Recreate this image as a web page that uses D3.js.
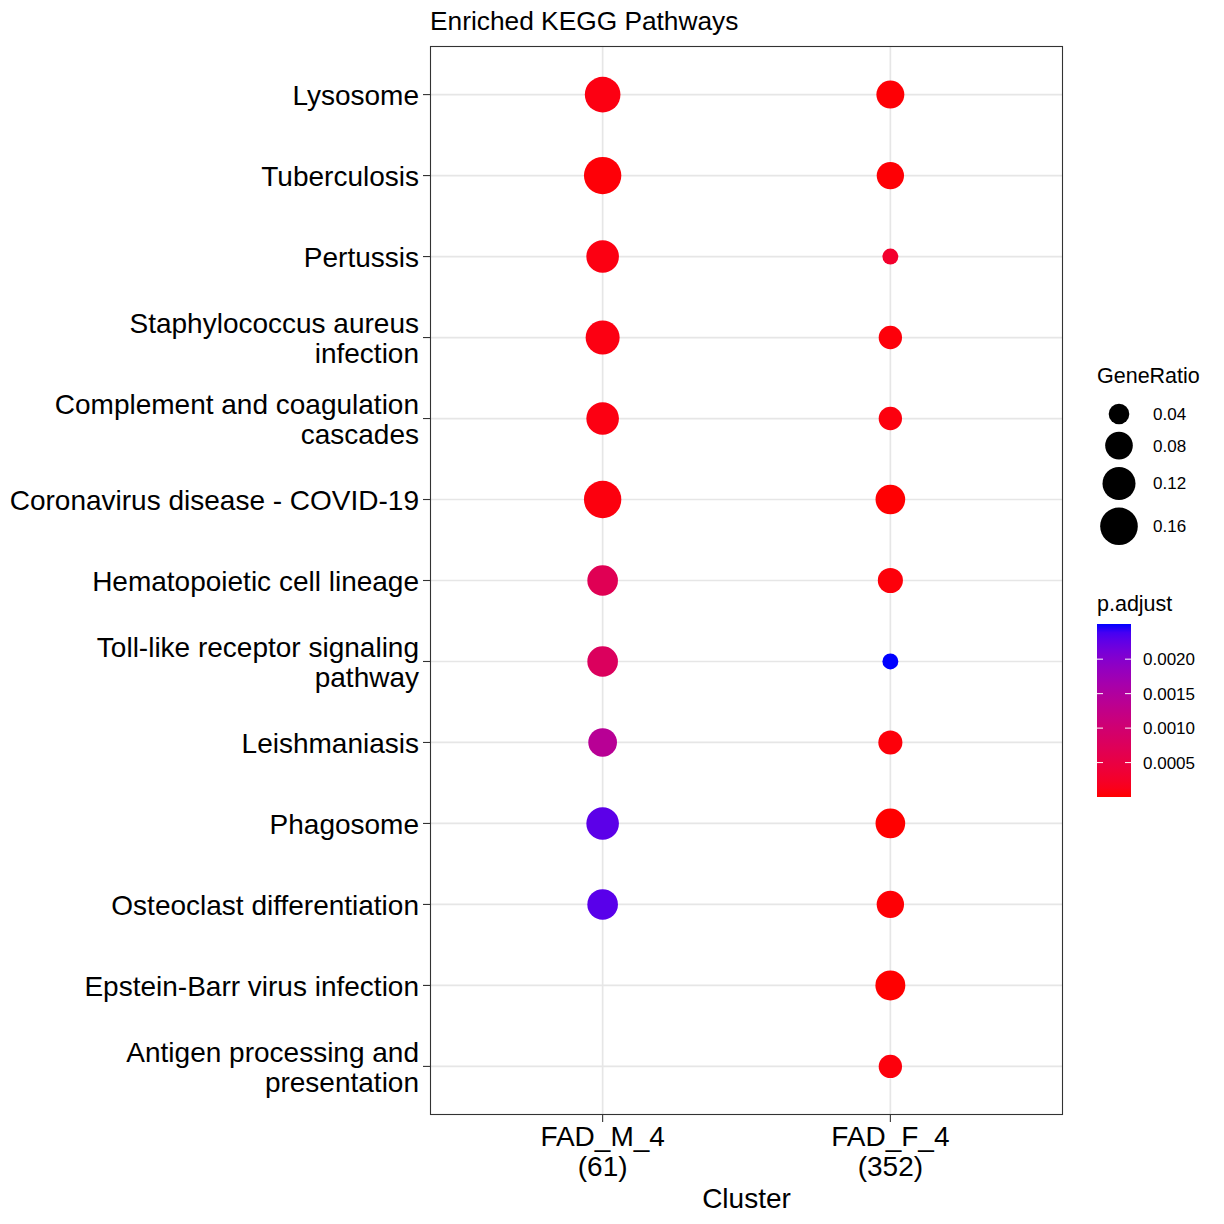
<!DOCTYPE html>
<html><head><meta charset="utf-8">
<script src="https://cdn.jsdelivr.net/npm/d3@7"></script>
<style>body{margin:0;background:#fff}svg{display:block;font-family:"Liberation Sans",Arial,sans-serif}</style>
</head><body><svg id="c" width="1224" height="1224"></svg>
<script>
const pathways = ["Lysosome","Tuberculosis","Pertussis","Staphylococcus aureus\ninfection","Complement and coagulation\ncascades","Coronavirus disease - COVID-19","Hematopoietic cell lineage","Toll-like receptor signaling\npathway","Leishmaniasis","Phagosome","Osteoclast differentiation","Epstein-Barr virus infection","Antigen processing and\npresentation"];
const clusters = ["FAD_M_4","FAD_F_4"];
const clusterCounts = ["(61)","(352)"];
const ratioM = [0.142,0.158,0.116,0.128,0.116,0.158,0.101,0.101,0.087,0.116,0.101,null,null];
const ratioF = [0.082,0.078,0.021,0.054,0.054,0.094,0.064,0.021,0.058,0.094,0.078,0.096,0.054];
const padjM = [0.00008,0.00003,0.00008,0.00008,0.00008,0.00006,0.00068,0.00078,0.00140,0.00228,0.00230,null,null];
const padjF = [0.00002,0.00002,0.00028,0.00004,0.00006,0.00001,0.00004,0.00251,0.00004,0.000001,0.00002,0.000002,0.00005];
const sizeBreaks = [0.04,0.08,0.12,0.16];
const colorBreaks = [0.0005,0.0010,0.0015,0.0020];

const svg = d3.select("#c");
const P = {l:430, r:1063, t:46, b:1115};

const x = d3.scalePoint().domain(clusters).range([P.l,P.r]).padding(0.6);
const y = d3.scalePoint().domain(pathways).range([P.t,P.b]).padding(0.6);

const data = [];
pathways.forEach((p,i)=>{
  if(ratioM[i]!=null) data.push({p, c:clusters[0], r:ratioM[i], q:padjM[i]});
  if(ratioF[i]!=null) data.push({p, c:clusters[1], r:ratioF[i], q:padjF[i]});
});
const qExt = d3.extent(data, d=>d.q);
const color = d3.scaleLinear().domain(qExt).range(["red","blue"]).interpolate(d3.interpolateLab);
const size = d3.scaleSqrt().domain([0.04,0.16]).range([10.3,18.8]);

// panel
svg.append("rect").attr("x",P.l).attr("y",P.t).attr("width",P.r-P.l).attr("height",P.b-P.t).attr("fill","#fff");
const grid = svg.append("g").attr("stroke","#E6E6E6").attr("stroke-width",1.7);
pathways.forEach(p=>grid.append("line").attr("x1",P.l).attr("x2",P.r).attr("y1",y(p)).attr("y2",y(p)));
clusters.forEach(c=>grid.append("line").attr("y1",P.t).attr("y2",P.b).attr("x1",x(c)).attr("x2",x(c)));

svg.append("g").selectAll("circle").data(data).join("circle")
  .attr("cx",d=>x(d.c)).attr("cy",d=>y(d.p)).attr("r",d=>size(d.r)).attr("fill",d=>color(d.q));

svg.append("rect").attr("x",P.l+0.5).attr("y",P.t+0.5).attr("width",P.r-P.l-1).attr("height",P.b-P.t-1)
  .attr("fill","none").attr("stroke","#333").attr("stroke-width",1.1);

// y axis
const ya = svg.append("g");
pathways.forEach(p=>{
  ya.append("line").attr("x1",P.l-7).attr("x2",P.l).attr("y1",y(p)).attr("y2",y(p)).attr("stroke","#333").attr("stroke-width",1.1);
  const lines = p.split("\n");
  const t = ya.append("text").attr("text-anchor","end").attr("font-size",28).attr("fill","#000");
  lines.forEach((ln,k)=>{
    t.append("tspan").attr("x",P.l-11).attr("y",y(p)+10.5 + (k-(lines.length-1)/2)*30).text(ln);
  });
});
// x axis
clusters.forEach((c,i)=>{
  svg.append("line").attr("x1",x(c)).attr("x2",x(c)).attr("y1",P.b).attr("y2",P.b+7).attr("stroke","#333").attr("stroke-width",1.1);
  const t = svg.append("text").attr("text-anchor","middle").attr("font-size",28).attr("fill","#000");
  t.append("tspan").attr("x",x(c)).attr("y",1146).text(c);
  t.append("tspan").attr("x",x(c)).attr("y",1176).text(clusterCounts[i]);
});
svg.append("text").attr("x",(P.l+P.r)/2).attr("y",1208).attr("text-anchor","middle").attr("font-size",28).text("Cluster");
svg.append("text").attr("x",P.l).attr("y",30).attr("font-size",26.3).text("Enriched KEGG Pathways");

// size legend
svg.append("text").attr("x",1097).attr("y",383).attr("font-size",21.5).text("GeneRatio");
let cy = 414;
sizeBreaks.forEach((b,i)=>{
  if(i>0) cy += size(sizeBreaks[i-1]) + size(b) + 7.5;
  svg.append("circle").attr("cx",1119).attr("cy",cy).attr("r",size(b)).attr("fill","#000");
  svg.append("text").attr("x",1153).attr("y",cy+6).attr("font-size",17).text(b.toFixed(2));
});

// color legend
svg.append("text").attr("x",1097).attr("y",611).attr("font-size",21.5).text("p.adjust");
const cb = {x:1097, w:34, t:624, b:797};
const cbY = d3.scaleLinear().domain(qExt).range([cb.b,cb.t]);
const defs = svg.append("defs");
const grad = defs.append("linearGradient").attr("id","g").attr("x1",0).attr("x2",0).attr("y1",1).attr("y2",0);
d3.range(0,1.0001,0.05).forEach(f=>grad.append("stop").attr("offset",f).attr("stop-color",color(qExt[0]+f*(qExt[1]-qExt[0]))));
svg.append("rect").attr("x",cb.x).attr("y",cb.t).attr("width",cb.w).attr("height",cb.b-cb.t).attr("fill","url(#g)");
colorBreaks.forEach(b=>{
  const yy = cbY(b);
  svg.append("line").attr("x1",cb.x).attr("x2",cb.x+6).attr("y1",yy).attr("y2",yy).attr("stroke","#fff").attr("stroke-width",1);
  svg.append("line").attr("x1",cb.x+cb.w-6).attr("x2",cb.x+cb.w).attr("y1",yy).attr("y2",yy).attr("stroke","#fff").attr("stroke-width",1);
  svg.append("text").attr("x",1143).attr("y",yy+6).attr("font-size",17).text(b.toFixed(4));
});
</script></body></html>
